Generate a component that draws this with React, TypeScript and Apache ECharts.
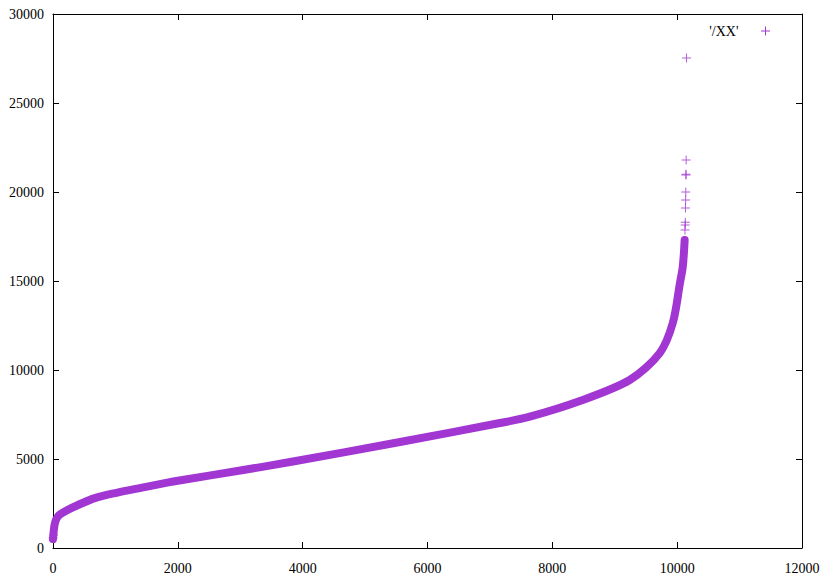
import React, { useEffect, useRef } from "react";
import * as echarts from "echarts";

// Sorted curve: index (x) and value (y)
const curveX = [0, 10, 25, 50, 100, 190, 300, 400, 670, 950, 1470, 1870, 2000, 3000, 3800, 5560, 7160, 7640, 8440, 9240, 9720, 9930, 10045, 10090, 10120];
const curveY = [500, 900, 1300, 1600, 1850, 2050, 2250, 2415, 2800, 3050, 3420, 3700, 3780, 4350, 4830, 5955, 7020, 7380, 8260, 9440, 10950, 12640, 14890, 15800, 17300];

// Isolated points at both ends of the curve
const outlierX = [0, 8, 10125, 10128, 10130, 10133, 10136, 10138, 10140, 10142, 10144, 10150];
const outlierY = [560, 730, 17860, 18150, 18300, 19100, 19550, 20000, 20950, 21000, 21800, 27530];

const seriesName = "'/XX'";
const xTicks = { min: 0, max: 12000, interval: 2000 };
const yTicks = { min: 0, max: 30000, interval: 5000 };

const COLOR = "#a236d2";
const PLUS = "path://M-1,-0.11L1,-0.11L1,0.11L-1,0.11Z M-0.11,-1L0.11,-1L0.11,1L-0.11,1Z";
const FONT = "Liberation Serif";

export default function App() {
  const ref = useRef<HTMLDivElement>(null);
  useEffect(() => {
    if (!ref.current) return;
    const chart = echarts.init(ref.current, null, { renderer: "svg" });
    const axisCommon = {
      axisLine: { show: true, onZero: false, lineStyle: { color: "#000", width: 1 } },
      axisTick: { show: true, inside: true, length: 6, lineStyle: { color: "#000" } },
      splitLine: { show: false },
    };
    const plain = (v: number) => String(v);
    chart.setOption({
      animation: false,
      backgroundColor: "#fff",
      grid: { left: 53, right: 22, top: 14, bottom: 37, containLabel: false },
      legend: {
        show: true,
        right: 49,
        top: 19,
        align: "right",
        itemWidth: 44,
        itemHeight: 9,
        itemGap: 5,
        data: [{ name: seriesName, icon: PLUS }],
        textStyle: { fontFamily: FONT, fontSize: 14, color: "#000" },
      },
      xAxis: [
        {
          type: "value",
          position: "bottom",
          ...xTicks,
          ...axisCommon,
          axisLabel: { color: "#000", fontFamily: FONT, fontSize: 14, margin: 13, formatter: plain },
        },
        {
          type: "value",
          position: "top",
          ...xTicks,
          ...axisCommon,
          axisLabel: { show: false },
        },
      ],
      yAxis: [
        {
          type: "value",
          position: "left",
          ...yTicks,
          ...axisCommon,
          axisLabel: { color: "#000", fontFamily: FONT, fontSize: 14, margin: 9, formatter: plain },
        },
        {
          type: "value",
          position: "right",
          ...yTicks,
          ...axisCommon,
          axisLabel: { show: false },
        },
      ],
      series: [
        {
          name: seriesName,
          type: "line",
          xAxisIndex: 0,
          yAxisIndex: 0,
          data: curveX.map((x, i) => [x, curveY[i]]),
          showSymbol: false,
          symbol: "none",
          smooth: 0.3,
          lineStyle: { color: COLOR, width: 8, cap: "round", join: "round" },
          itemStyle: { color: COLOR },
        },
        {
          name: seriesName,
          type: "scatter",
          xAxisIndex: 0,
          yAxisIndex: 0,
          data: outlierX.map((x, i) => [x, outlierY[i]]),
          symbol: PLUS,
          symbolSize: 9,
          itemStyle: { color: COLOR },
        },
      ],
    });
    return () => chart.dispose();
  }, []);
  return <div ref={ref} style={{ width: 824, height: 585, position: "absolute", left: 0, top: 0 }} />;
}
